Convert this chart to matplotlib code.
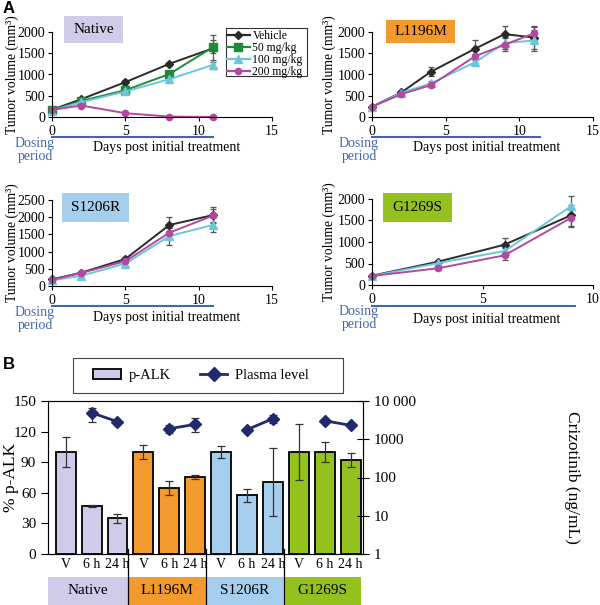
import matplotlib
matplotlib.use('Agg')
import matplotlib.pyplot as plt
from matplotlib.patches import Rectangle, Patch
from matplotlib.lines import Line2D
import matplotlib.transforms as mtransforms
import numpy as np

plt.rcParams['font.family'] = ['Liberation Serif', 'DejaVu Serif']

# ---------------- Data: panel A ----------------
native_days = [0, 2, 5, 8, 11]
native_vehicle = [170, 420, 820, 1250, 1620]
native_vehicle_err = [20, 30, 60, 40, 320]
native_50 = [160, 380, 630, 1010, 1650]
native_50_err = [15, 25, 40, 80, 150]
native_100 = [150, 350, 600, 890, 1230]
native_100_err = [15, 25, 30, 60, 100]
native_200 = [170, 270, 90, 10, 0]
native_200_err = [15, 20, 10, 5, 5]

l1196m_days = [0, 2, 4, 7, 9, 11]
l1196m_vehicle = [243, 580, 1066, 1607, 1950, 1870]
l1196m_vehicle_err = [20, 30, 100, 200, 200, 280]
l1196m_200 = [240, 540, 750, 1430, 1700, 1970]
l1196m_200_err = [15, 30, 50, 60, 150, 150]
l1196m_100 = [240, 570, 790, 1290, 1740, 1800]
l1196m_100_err = [15, 30, 60, 60, 150, 250]

s1206r_days = [0, 2, 5, 8, 11]
s1206r_vehicle = [194, 388, 785, 1773, 2064]
s1206r_vehicle_err = [20, 30, 50, 220, 220]
s1206r_200 = [180, 380, 720, 1550, 2050]
s1206r_200_err = [15, 30, 50, 150, 200]
s1206r_100 = [160, 300, 650, 1450, 1780]
s1206r_100_err = [15, 30, 40, 250, 200]

g1269s_days = [0, 3, 6, 9]
g1269s_vehicle = [217, 543, 938, 1620]
g1269s_vehicle_err = [15, 50, 160, 250]
g1269s_100 = [210, 510, 790, 1830]
g1269s_100_err = [15, 40, 60, 230]
g1269s_200 = [210, 390, 690, 1560]
g1269s_200_err = [15, 30, 100, 200]

dose_labels = ['Vehicle', '50 mg/kg', '100 mg/kg', '200 mg/kg']

# ---------------- Data: panel B ----------------
groups = ['Native', 'L1196M', 'S1206R', 'G1269S']
bar_labels = ['V', '6 h', '24 h'] * 4
palk_values = [100, 47, 35, 100, 65, 75.5, 100, 57.5, 70.7, 100, 100, 92]
palk_err = [15, 1, 4.5, 7, 7, 1.5, 6, 6.5, 33, 27, 10, 7]
plasma_values = [4940, 2880, 1890, 2450, 1780, 3450, 3050, 2310]
plasma_err_low = [2060, 200, 450, 930, 150, 840, 200, 200]
plasma_err_high = [1740, 200, 450, 1080, 150, 850, 200, 200]

# ---------------- Styles ----------------
W, H = 600, 605
fig = plt.figure(figsize=(6, 6.05), dpi=100)

def fx(x):
    return x / W

def fy(y):
    return 1 - y / H

def axrect(l, t, r, b):
    return [l / W, 1 - b / H, (r - l) / W, (b - t) / H]

col = {'Vehicle': '#2a2a2a', '50 mg/kg': '#1f8a3b', '100 mg/kg': '#6cc6da', '200 mg/kg': '#b4479f'}
mk = {'Vehicle': 'D', '50 mg/kg': 's', '100 mg/kg': '^', '200 mg/kg': 'o'}
ms = {'Vehicle': 4, '50 mg/kg': 5.5, '100 mg/kg': 5.5, '200 mg/kg': 4.5}
group_colors = {'Native': '#cfcbe8', 'L1196M': '#f29a2e', 'S1206R': '#a6cfee', 'G1269S': '#95c11f'}
blue = '#4466b0'
navy = '#222a6e'


def fig_box(l, t, r, b, color, text, fs=11):
    fig.patches.append(Rectangle((fx(l), fy(b)), (r - l) / W, (b - t) / H,
                                 transform=fig.transFigure, facecolor=color,
                                 edgecolor='none', zorder=0))
    fig.text(fx((l + r) / 2), fy((t + b) / 2), text, ha='center', va='center',
             fontsize=fs)


def panel(rect, days, series, xmax, xticks, ymax, yticks, dose_end, line_y,
          title, tbox, ylab_x, dosing_xy, days_xy):
    ax = fig.add_axes(rect)
    for lab, vals, err in series:
        ax.errorbar(days, vals, yerr=err, color=col[lab], marker=mk[lab],
                    ms=ms[lab], lw=1.4, ecolor='#555555', elinewidth=0.9,
                    capsize=2.5, capthick=0.9, clip_on=False, label=lab)
    ax.set_xlim(0, xmax)
    ax.set_ylim(0, ymax)
    ax.set_xticks(xticks)
    ax.set_yticks(yticks)
    ax.spines['top'].set_visible(False)
    ax.spines['right'].set_visible(False)
    ax.tick_params(labelsize=10, length=3, width=0.8, pad=2)
    ax.tick_params(axis='x', pad=3)
    ax.set_ylabel('Tumor volume (mm³)', fontsize=9.8, va='center')
    ax.yaxis.set_label_coords(ylab_x, 0.5)
    trans = mtransforms.blended_transform_factory(ax.transData, ax.transAxes)
    ax.plot([0, dose_end], [line_y, line_y], color=blue, lw=1.5,
            transform=trans, clip_on=False)
    fig.text(fx(dosing_xy[0]), fy(dosing_xy[1]), 'Dosing\nperiod', color=blue,
             ha='center', va='center', fontsize=10, linespacing=0.95)
    fig.text(fx(days_xy[0]), fy(days_xy[1]), 'Days post initial treatment',
             ha='center', va='center', fontsize=10)
    fig_box(*tbox, group_colors[title], title, fs=11)
    return ax


ax1 = panel(axrect(52, 32, 272, 117), native_days,
            [('Vehicle', native_vehicle, native_vehicle_err),
             ('50 mg/kg', native_50, native_50_err),
             ('100 mg/kg', native_100, native_100_err),
             ('200 mg/kg', native_200, native_200_err)],
            15, [0, 5, 10, 15], 2000, [0, 500, 1000, 1500, 2000], 11, -0.235,
            'Native', (64, 16, 123, 43), -0.182, (35, 150), (167, 148))

ax2 = panel(axrect(372, 32, 593, 117), l1196m_days,
            [('Vehicle', l1196m_vehicle, l1196m_vehicle_err),
             ('100 mg/kg', l1196m_100, l1196m_100_err),
             ('200 mg/kg', l1196m_200, l1196m_200_err)],
            15, [0, 5, 10, 15], 2000, [0, 500, 1000, 1500, 2000], 11.4, -0.235,
            'L1196M', (386, 20, 455, 43), -0.195, (359, 150), (487, 148))

ax3 = panel(axrect(52, 200, 272, 286), s1206r_days,
            [('Vehicle', s1206r_vehicle, s1206r_vehicle_err),
             ('100 mg/kg', s1206r_100, s1206r_100_err),
             ('200 mg/kg', s1206r_200, s1206r_200_err)],
            15, [0, 5, 10, 15], 2500, [0, 500, 1000, 1500, 2000, 2500], 11, -0.229,
            'S1206R', (62, 193, 129, 222), -0.182, (35, 319), (167, 318))

ax4 = panel(axrect(372, 199, 593, 285), g1269s_days,
            [('Vehicle', g1269s_vehicle, g1269s_vehicle_err),
             ('100 mg/kg', g1269s_100, g1269s_100_err),
             ('200 mg/kg', g1269s_200, g1269s_200_err)],
            10, [0, 5, 10], 2000, [0, 500, 1000, 1500, 2000], 9.2, -0.24,
            'G1269S', (383, 193, 452, 222), -0.195, (359, 318), (487, 319))

# Legend panel A (Native)
fig.patches.append(Rectangle((fx(226), fy(76)), 81 / W, 48 / H, transform=fig.transFigure,
                             facecolor='white', edgecolor='#333333', lw=0.8, zorder=3))
handles = [Line2D([], [], color=col[l], marker=mk[l], ms=ms[l], lw=1.6) for l in dose_labels]
leg = fig.legend(handles, dose_labels, loc='upper left', bbox_to_anchor=(fx(225), fy(28)),
                 bbox_transform=fig.transFigure, frameon=False, fontsize=8.4,
                 handlelength=1.9, handletextpad=0.25, labelspacing=0.0,
                 borderpad=0.2, borderaxespad=0)
leg.set_zorder(4)

# ---------------- Panel B ----------------
axb = fig.add_axes(axrect(48, 401, 363, 554))
x = np.arange(len(palk_values))
bar_cols = [group_colors[g] for g in groups for _ in range(3)]
axb.bar(x, palk_values, width=0.77, color=bar_cols, edgecolor='black', linewidth=1.3,
        yerr=palk_err, capsize=3,
        error_kw=dict(ecolor='#333333', elinewidth=0.9, capthick=0.9), zorder=2)
axb.set_xlim(-0.683, 11.48)
axb.set_ylim(0, 150)
axb.set_yticks([0, 30, 60, 90, 120, 150])
axb.set_xticks(x)
axb.set_xticklabels(bar_labels)
axb.tick_params(axis='x', length=0, pad=3, labelsize=10)
axb.tick_params(axis='y', labelsize=11, length=5, width=0.8, direction='out')
axb.set_ylabel('% p-ALK', fontsize=12.5, va='center')
axb.yaxis.set_label_coords(-0.117, 0.5)
for s in axb.spines.values():
    s.set_linewidth(0.8)
    s.set_color('#444444')

axp = axb.twinx()
axp.set_yscale('log')
axp.set_ylim(1, 10000)
axp.set_yticks([1, 10, 100, 1000, 10000])
axp.set_yticklabels(['1', '10', '100', '1000', '10 000'])
axp.minorticks_off()
axp.tick_params(axis='y', labelsize=11, length=8, width=0.8, direction='inout', pad=4)
axp.set_ylabel('Crizotinib (ng/mL)', fontsize=12.5, rotation=-90, va='center')
axp.yaxis.set_label_coords(1.663, 0.5)
for g in range(4):
    xs = [3 * g + 1, 3 * g + 2]
    vals = plasma_values[2 * g:2 * g + 2]
    lo = plasma_err_low[2 * g:2 * g + 2]
    hi = plasma_err_high[2 * g:2 * g + 2]
    axp.errorbar(xs, vals, yerr=[lo, hi], color=navy, marker='D', ms=6.5, lw=2,
                 ecolor='#333333', elinewidth=0.9, capsize=3, capthick=0.9)

# Legend panel B
fig.patches.append(Rectangle((fx(73), fy(393)), 270 / W, 35 / H, transform=fig.transFigure,
                             facecolor='white', edgecolor='#444444', lw=0.8, zorder=3))
hb = [Patch(facecolor=group_colors['Native'], edgecolor='black', lw=1.3),
      Line2D([], [], color=navy, marker='D', ms=7, lw=2)]
legb = fig.legend(hb, ['p-ALK', 'Plasma level'], loc='center', ncol=2,
                  bbox_to_anchor=(fx(201), fy(375.5)), bbox_transform=fig.transFigure,
                  frameon=False, fontsize=10.5, handlelength=1.9, handletextpad=0.5,
                  columnspacing=2.0)
legb.set_zorder(4)

# group boxes
edges = [48, 128, 206, 284, 361]
for i, g in enumerate(groups):
    fig_box(edges[i], 577, edges[i + 1], 605, group_colors[g], g, fs=11)
for xe in edges[1:4]:
    fig.add_artist(Line2D([fx(xe), fx(xe)], [fy(549), fy(605)], transform=fig.transFigure,
                          color='black', lw=0.9))

# panel letters
fig.text(fx(3), fy(1), 'A', fontfamily='Liberation Sans', fontweight='bold', fontsize=12,
         va='top', ha='left')
fig.text(fx(3), fy(357), 'B', fontfamily='Liberation Sans', fontweight='bold', fontsize=12,
         va='top', ha='left')

fig.savefig('out.png', dpi=100)
